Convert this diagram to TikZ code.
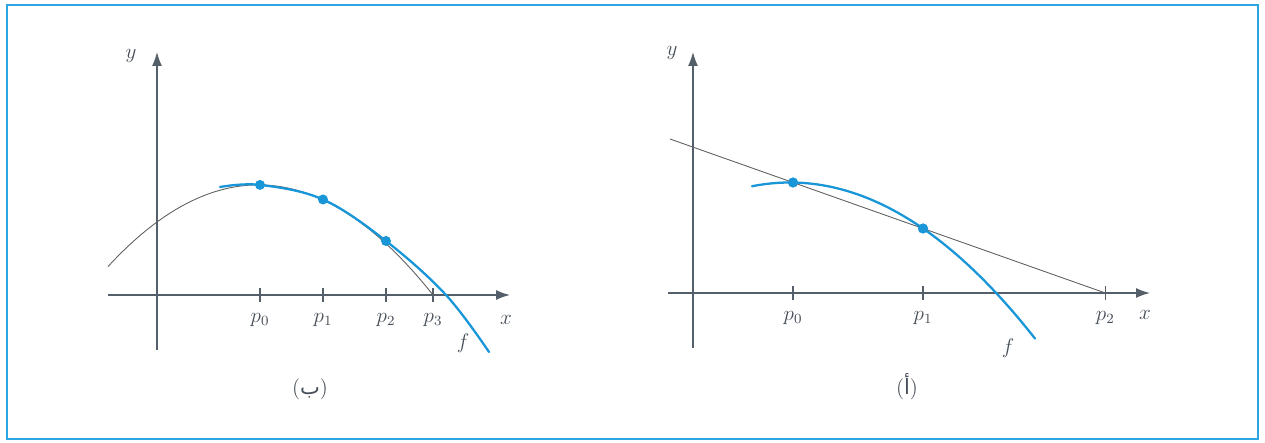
\documentclass[tikz,border=0pt]{standalone}
\usepackage{fontspec}
\newfontfamily\arabicfont[Script=Arabic]{DejaVu Sans}
\TeXXeTstate=1
\usepackage{tikz}
\usetikzlibrary{arrows.meta}
\definecolor{fblue}{RGB}{25,150,215}
\definecolor{framecol}{RGB}{45,165,225}
\definecolor{axisgray}{RGB}{85,95,105}
\definecolor{thingray}{RGB}{95,95,95}
\definecolor{labgray}{RGB}{70,78,88}

\begin{document}
\begin{tikzpicture}[
    x=0.02cm, y=0.02cm,
    axis/.style={draw=axisgray, line width=0.8pt, -{Latex[length=2.8mm,width=2mm]}},
    tick/.style={draw=axisgray, line width=0.6pt},
    curvef/.style={draw=fblue, line width=1.3pt, line cap=round},
    approx/.style={draw=thingray, line width=0.5pt},
    dot/.style={circle, fill=fblue, inner sep=0pt, minimum size=2mm},
    lab/.style={font=\large, text=labgray, inner sep=1pt}
  ]
    \useasboundingbox (0,0) rectangle (1265,443);
    \draw[framecol, line width=1.6pt] (7,4) rectangle (1258,438);

    \begin{scope}[shift={(157,148)}]
      % Axes
      \draw[axis] (-49,0) -- (353,0);
      \draw[axis] (0,-55) -- (0,243);
      \node[lab] (xl) at (349,-25) {$x$};
      \node[lab] (yl) at (-26,239) {$y$};

      % Ticks p_0 ... p_3
      \foreach \px/\i in {103/0,166/1,229/2,276/3} {
        \draw[tick] (\px,7) -- (\px,-7);
        \node[lab] (lp\i) at (\px,-25) {$p_{\i}$};
      }

      % Parabola through three points
      \draw[approx] plot[domain=-49:276, samples=80] (\x,{110.1-0.3611*((\x-101.4)/10)^2});

      % Function f
      \coordinate (fa) at (63,108);
      \coordinate (fz) at (289,0);
      \coordinate (fe) at (332,-57);
      \node[dot] (b0) at (103,110.1) {};
      \node[dot] (b1) at (166,95.5) {};
      \node[dot] (b2) at (229,54) {};
      \draw[curvef] plot[smooth, tension=0.6] coordinates {(fa) (b0.center) (b1.center) (b2.center) (fz) (fe)};
      \node[lab] (fl) at (306,-48) {$f$};

      \node[lab] (capb) at (153,-94) {({\arabicfont\beginR ب\endR})};
    \end{scope}

    \begin{scope}[shift={(693,150)}]
      % Axes
      \draw[axis] (-25,0) -- (457,0);
      \draw[axis] (0,-55) -- (0,241);
      \node[lab] (xr) at (452,-22) {$x$};
      \node[lab] (yr) at (-21,240) {$y$};

      % Ticks p_0 ... p_2
      \foreach \px/\i in {100/0,230/1,412.3/2} {
        \draw[tick] (\px,7) -- (\px,-7);
        \node[lab] (rp\i) at (\px,-25) {$p_{\i}$};
      }

      % Secant line
      \node[dot] (a0) at (100,110.5) {};
      \node[dot] (a1) at (230,64.5) {};
      \coordinate (sl) at (-23,154);
      \coordinate (sr) at (412.3,0);
      \draw[approx] (sl) -- (a0.center) -- (a1.center) -- (sr);

      % Function f
      \draw[curvef] plot[domain=59:342, samples=80] (\x,{110.5-0.26*((\x-97)/10)^2});
      \node[dot] at (a0) {};
      \node[dot] at (a1) {};
      \node[lab] (fr) at (315,-55) {$f$};

      \node[lab] (capa) at (214,-94) {({\arabicfont\beginR أ\endR})};
    \end{scope}
  \end{tikzpicture}
\end{document}
